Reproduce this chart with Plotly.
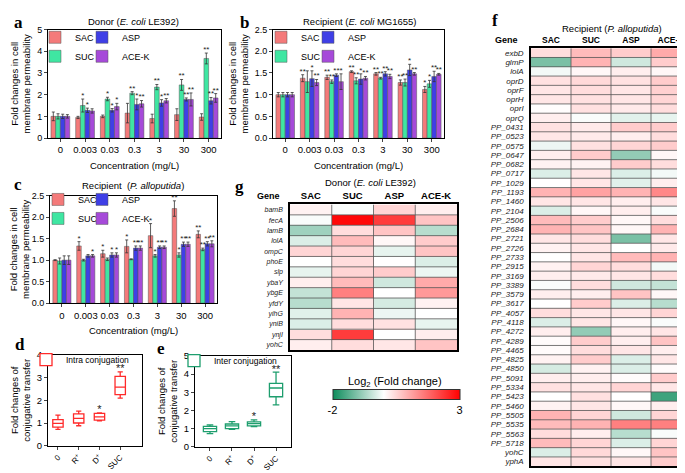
import plotly.graph_objects as go

W, H = 685, 473
def fx(p): return p / W
def fy(p): return 1 - p / H

FONT = "Liberation Sans, Arial, sans-serif"
SERIF = "Liberation Serif, Times New Roman, serif"

# ---------------- data ----------------
conc_labels = ["0", "0.003", "0.03", "0.3", "3", "30", "300"]
series_names = ["SAC", "SUC", "ASP", "ACE-K"]
series_colors = ["#F47A7A", "#3FE6A2", "#3F3FE6", "#A64AD9"]

# panel a: Donor (E. coli LE392)
a_SAC = [1.00, 0.95, 1.00, 1.15, 0.90, 1.08, 0.97]
a_SUC = [1.00, 1.50, 1.80, 2.07, 2.35, 2.45, 3.67]
a_ASP = [1.00, 1.28, 1.28, 1.55, 1.62, 1.78, 1.72]
a_ACEK = [1.00, 1.25, 1.45, 1.58, 1.72, 1.78, 1.85]
a_SAC_err = [0.20, 0.05, 0.06, 0.45, 0.20, 0.27, 0.15]
a_SUC_err = [0.12, 0.30, 0.08, 0.07, 0.12, 0.25, 0.25]
a_ASP_err = [0.10, 0.10, 0.08, 0.25, 0.15, 0.07, 0.15]
a_ACEK_err = [0.08, 0.10, 0.15, 0.15, 0.10, 0.30, 0.20]
a_SAC_sig = ["", "", "", "", "", "", ""]
a_SUC_sig = ["", "*", "*", "**", "**", "**", "**"]
a_ASP_sig = ["", "*", "*", "*", "*", "**", "**"]
a_ACEK_sig = ["", "", "*", "**", "**", "**", "**"]

# panel b: Recipient (E. coli MG1655)
b_SAC = [1.00, 1.38, 1.40, 1.53, 1.48, 1.28, 1.12]
b_SUC = [1.00, 1.30, 1.30, 1.32, 1.38, 1.28, 1.25]
b_ASP = [1.00, 1.37, 1.45, 1.36, 1.48, 1.57, 1.42]
b_ACEK = [1.00, 1.28, 1.30, 1.38, 1.42, 1.48, 1.47]
b_SAC_err = [0.05, 0.08, 0.05, 0.02, 0.03, 0.06, 0.07]
b_SUC_err = [0.05, 0.25, 0.04, 0.07, 0.02, 0.08, 0.08]
b_ASP_err = [0.05, 0.18, 0.03, 0.12, 0.05, 0.13, 0.12]
b_ACEK_err = [0.05, 0.07, 0.18, 0.04, 0.05, 0.03, 0.02]
b_SAC_sig = ["", "**", "**", "**", "**", "**", "*"]
b_SUC_sig = ["", "", "**", "**", "**", "**", "*"]
b_ASP_sig = ["", "*", "**", "*", "**", "*", "**"]
b_ACEK_sig = ["", "**", "*", "**", "**", "**", "**"]

# panel c: Recipient (P. alloputida)
c_SAC = [1.00, 1.33, 1.15, 1.32, 1.57, 2.20, 1.60]
c_SUC = [0.98, 1.00, 1.02, 1.02, 1.10, 1.12, 1.25]
c_ASP = [1.00, 1.10, 1.12, 1.28, 1.30, 1.37, 1.38]
c_ACEK = [1.00, 1.10, 1.12, 1.28, 1.30, 1.37, 1.38]
c_SAC_err = [0.01, 0.10, 0.08, 0.15, 0.28, 0.18, 0.08]
c_SUC_err = [0.07, 0.02, 0.03, 0.01, 0.03, 0.05, 0.03]
c_ASP_err = [0.10, 0.03, 0.05, 0.05, 0.03, 0.05, 0.05]
c_ACEK_err = [0.10, 0.03, 0.05, 0.05, 0.03, 0.05, 0.07]
c_SAC_sig = ["", "*", "*", "*", "*", "**", "**"]
c_SUC_sig = ["", "", "", "", "*", "*", "**"]
c_ASP_sig = ["", "", "*", "**", "**", "**", "**"]
c_ACEK_sig = ["", "*", "*", "**", "**", "**", "**"]

# panels d / e: conjugative transfer box plots
box_groups = ["0", "R<sup>+</sup>", "D<sup>+</sup>", "SUC"]
d_low = [0.72, 0.88, 1.10, 2.10]
d_q1 = [0.82, 1.00, 1.13, 2.25]
d_med = [0.98, 1.20, 1.27, 2.58]
d_q3 = [1.15, 1.40, 1.42, 3.05]
d_high = [1.35, 1.52, 1.45, 3.25]
d_sig = ["", "", "*", "**"]

e_low = [0.72, 0.95, 1.10, 2.30]
e_q1 = [0.83, 1.00, 1.15, 2.75]
e_med = [1.00, 1.15, 1.27, 3.23]
e_q3 = [1.12, 1.25, 1.37, 3.49]
e_high = [1.20, 1.38, 1.48, 4.11]
e_sig = ["", "", "*", "**"]

# panel g: Donor heatmap (log2 fold change)
g_genes = ["bamB", "fecA", "lamB", "lolA", "ompC", "phoE", "slp", "ybaY", "ybgE",
           "yfdY", "yihG", "yniB", "ynjI", "yohC"]
g_SAC = [0.15, -0.05, -0.8, -0.3, 0.5, 0.0, -0.2, 0.2, -0.5, -0.6, -0.25, -0.3, 0.4, 0.2]
g_SUC = [-0.05, 2.9, 0.4, 0.8, 0.5, 0.4, 0.5, 0.8, 1.5, 0.3, 0.9, 0.4, 2.3, 0.4]
g_ASP = [0.5, 2.3, 0.7, 0.1, -0.2, 0.0, 0.6, -0.4, 0.0, -0.35, -0.15, 0.35, 0.0, 0.3]
g_ACEK = [0.2, 0.7, -0.6, 0.6, 0.7, -0.3, -0.15, 1.0, 1.2, 0.15, 0.0, -0.2, 0.2, 0.7]

# panel f: Recipient (P. alloputida) heatmap
f_genes = ["exbD", "glmP", "lolA", "oprD", "oprF", "oprH", "oprI", "oprQ",
           "PP_0431", "PP_0523", "PP_0575", "PP_0647", "PP_0682", "PP_0717", "PP_1029",
           "PP_1193", "PP_1460", "PP_2104", "PP_2506", "PP_2684", "PP_2721", "PP_2726",
           "PP_2733", "PP_2915", "PP_3169", "PP_3389", "PP_3579", "PP_3617", "PP_4057",
           "PP_4118", "PP_4272", "PP_4289", "PP_4465", "PP_4825", "PP_4850", "PP_5091",
           "PP_5334", "PP_5423", "PP_5460", "PP_5505", "PP_5535", "PP_5563", "PP_5718",
           "yohC", "yphA"]
f_SAC = [0.4, -1.1, -0.1, 0.35, 0.3, 0.3, 0.02, 0.2, 0.35, 0.3, -0.15, 0.2, 0.15, -0.3, 0.0,
         0.9, 0.3, -0.3, 0.8, 0.9, 0.3, 0.15, 0.0, 0.15, 0.2, -0.05, 0.2, 0.0, 0.4,
         -0.3, 0.2, 0.05, 0.05, 0.15, -0.35, 0.2, 0.35, 0.0, 0.15, 0.9, 0.8, 0.4, 0.8,
         -0.3, 0.3]
f_SUC = [0.8, 0.9, 0.1, 0.45, 0.4, 0.35, 0.35, -0.05, 0.25, 0.25, 0.35, 0.6, 0.15, 0.3, 0.3,
         1.1, 0.3, 0.1, 0.6, 0.7, 0.4, 0.3, 0.3, 0.5, 0.25, 0.4, 0.2, 0.6, 0.3,
         0.3, -0.9, 0.6, 0.4, 0.6, 0.15, 0.2, 0.3, 0.35, 0.3, 0.5, 0.9, 0.2, 0.5,
         0.45, 0.35]
f_ASP = [0.6, -0.4, 0.2, 0.35, 0.3, 0.3, 0.25, -0.25, 0.6, 0.2, 0.5, -0.9, 0.6, -0.3, -0.25,
         0.9, 0.2, 0.2, 0.1, 0.1, -1.1, 0.0, 0.8, 0.4, 0.3, -0.4, 0.7, -0.3, 0.3,
         0.1, 0.2, 0.2, 0.3, -0.3, -0.3, 0.05, 0.5, 0.0, 0.1, -0.4, 1.5, -0.6, -0.3,
         0.1, 0.3]
f_ACEK = [1.0, 0.6, 0.1, 0.6, 0.55, 0.5, 0.4, -0.2, 0.6, 0.4, 0.6, 0.1, 0.4, -0.1, 0.2,
          1.4, 0.3, -0.05, 0.4, 0.9, 0.3, 0.25, 0.9, -0.1, 0.4, -0.5, 0.1, -0.6, 0.5,
          -0.05, 0.3, 0.7, 0.2, 0.3, 0.05, 0.6, 0.3, -1.6, 0.2, 0.5, 1.5, -0.05, 0.5,
          0.7, 0.6]

# ---------------- figure ----------------
fig = go.Figure()

BW = 0.19
panels = {
    "a": dict(ax="", vals=[a_SAC, a_SUC, a_ASP, a_ACEK], errs=[a_SAC_err, a_SUC_err, a_ASP_err, a_ACEK_err],
              sigs=[a_SAC_sig, a_SUC_sig, a_ASP_sig, a_ACEK_sig], ymax=5, legs=("legend", "legend2")),
    "b": dict(ax="2", vals=[b_SAC, b_SUC, b_ASP, b_ACEK], errs=[b_SAC_err, b_SUC_err, b_ASP_err, b_ACEK_err],
              sigs=[b_SAC_sig, b_SUC_sig, b_ASP_sig, b_ACEK_sig], ymax=2.5, legs=("legend3", "legend4")),
    "c": dict(ax="3", vals=[c_SAC, c_SUC, c_ASP, c_ACEK], errs=[c_SAC_err, c_SUC_err, c_ASP_err, c_ACEK_err],
              sigs=[c_SAC_sig, c_SUC_sig, c_ASP_sig, c_ACEK_sig], ymax=2.5, legs=("legend5", "legend6")),
}

for key, p in panels.items():
    xa, ya = "x" + p["ax"], "y" + p["ax"]
    for k, name in enumerate(series_names):
        xs = [i + (k - 1.5) * BW for i in range(len(conc_labels))]
        fig.add_trace(go.Bar(
            x=xs, y=p["vals"][k], width=BW, name=name, xaxis=xa, yaxis=ya,
            marker=dict(color=series_colors[k], line=dict(color="#555555", width=0.5)),
            error_y=dict(type="data", array=p["errs"][k], color="#333333", thickness=0.8, width=1.5),
            legend=p["legs"][0] if k in (0, 1) else p["legs"][1],
            legendrank=k + 1, hoverinfo="skip"))
        tops = [v + e + p["ymax"] * 0.028 for v, e in zip(p["vals"][k], p["errs"][k])]
        fig.add_trace(go.Scatter(
            x=xs, y=tops, text=p["sigs"][k], mode="text", textposition="middle center",
            textfont=dict(size=8, color="#222222", family=FONT), xaxis=xa, yaxis=ya,
            showlegend=False, hoverinfo="skip", cliponaxis=False))

# box panels
box_specs = [
    ("4", d_low, d_q1, d_med, d_q3, d_high, d_sig, "#FF2A2A", "Intra conjugation", "legend7", 0.5, 4),
    ("5", e_low, e_q1, e_med, e_q3, e_high, e_sig, "#1E9E6E", "Inter conjugation", "legend8", 0.6, 5),
]
for ax, lo, q1, md, q3, hi, sig, col, nm, leg, bw, ymax in box_specs:
    xs = list(range(len(box_groups)))
    fig.add_trace(go.Box(
        x=xs, lowerfence=lo, q1=q1, median=md, q3=q3, upperfence=hi,
        width=bw, whiskerwidth=0.5, fillcolor="white", line=dict(color=col, width=1.3),
        name=nm, xaxis="x" + ax, yaxis="y" + ax, legend=leg, showlegend=True, hoverinfo="skip"))
    fig.add_trace(go.Scatter(
        x=xs, y=[h + ymax * 0.025 for h in hi], text=sig, mode="text",
        textfont=dict(size=11, color="#222222", family=FONT), xaxis="x" + ax, yaxis="y" + ax,
        showlegend=False, hoverinfo="skip", cliponaxis=False))

# heatmaps
g_z = [[g_SAC[i], g_SUC[i], g_ASP[i], g_ACEK[i]] for i in range(len(g_genes))]
f_z = [[f_SAC[i], f_SUC[i], f_ASP[i], f_ACEK[i]] for i in range(len(f_genes))]
fig.add_trace(go.Heatmap(z=g_z, x=list(range(4)), y=list(range(len(g_genes))),
                         coloraxis="coloraxis", xaxis="x6", yaxis="y6", hoverinfo="skip"))
fig.add_trace(go.Heatmap(z=f_z, x=list(range(4)), y=list(range(len(f_genes))),
                         coloraxis="coloraxis", xaxis="x7", yaxis="y7", hoverinfo="skip"))

shapes = []
for ax, n in (("6", len(g_genes)), ("7", len(f_genes))):
    for r in range(1, n):
        shapes.append(dict(type="line", xref="x" + ax, yref="y" + ax, x0=-0.5, x1=3.5,
                           y0=r - 0.5, y1=r - 0.5, line=dict(color="#555555", width=0.8)))
    for c in range(1, 4):
        shapes.append(dict(type="line", xref="x" + ax, yref="y" + ax, x0=c - 0.5, x1=c - 0.5,
                           y0=-0.5, y1=n - 0.5, line=dict(color="#555555", width=0.8)))

# ---------------- layout ----------------
def axbase(anchor):
    return dict(anchor=anchor, showline=True, mirror=True, linecolor="black", linewidth=1,
                showgrid=False, zeroline=False)

def bar_x(dom, anchor):
    d = axbase(anchor)
    d.update(domain=dom, range=[-0.5, 6.5], tickvals=list(range(7)), ticktext=conc_labels,
             tickangle=0, ticks="outside", ticklen=3, tickwidth=1,
             tickfont=dict(size=9.5, color="black"),
             title=dict(text="Concentration (mg/L)", font=dict(size=9.5, color="black"), standoff=7))
    return d

def bar_y(dom, anchor, ymax, dt, fmt):
    d = axbase(anchor)
    d.update(domain=dom, range=[0, ymax], dtick=dt, tickformat=fmt, ticks="outside", ticklen=3,
             tickwidth=1, tickfont=dict(size=9, color="black"),
             title=dict(text="Fold changes in cell<br>membrane permeability",
                        font=dict(size=9.5, color="black"), standoff=4))
    return d

def box_x(dom, anchor, rng):
    d = axbase(anchor)
    d.update(domain=dom, range=rng, tickvals=list(range(4)), ticktext=box_groups,
             tickangle=-45, ticks="outside", ticklen=3, tickwidth=1,
             tickfont=dict(size=8, color="black"))
    return d

def box_y(dom, anchor, ymax):
    d = axbase(anchor)
    d.update(domain=dom, range=[0, ymax], dtick=1, ticks="outside", ticklen=3, tickwidth=1,
             tickfont=dict(size=9.5, color="black"),
             title=dict(text="Fold changes of<br>conjugative transfer",
                        font=dict(size=9.5, color="black"), standoff=4))
    return d

def hm_x(dom, anchor, size):
    d = axbase(anchor)
    d.update(domain=dom, range=[-0.5, 3.5], side="top", tickvals=list(range(4)),
             ticktext=["<b>%s</b>" % s for s in series_names], ticks="", linewidth=1.5,
             tickfont=dict(size=size, color="black"))
    return d

def hm_y(dom, anchor, genes, size):
    n = len(genes)
    d = axbase(anchor)
    d.update(domain=dom, range=[n - 0.5, -0.5], tickvals=list(range(n)),
             ticktext=["<i>%s</i>" % g for g in genes], ticks="outside", ticklen=4,
             tickcolor="rgba(0,0,0,0)", linewidth=1.5,
             tickfont=dict(size=size, color="#222222"))
    return d

def leg(x, y, size=9):
    return dict(x=fx(x), y=fy(y), xanchor="left", yanchor="top", bgcolor="rgba(0,0,0,0)",
                font=dict(size=size, color="black", family=FONT), itemwidth=30,
                tracegroupgap=0)

annotations = []
def ann(text, x, y, size=9.5, family=FONT):
    annotations.append(dict(text=text, x=fx(x), y=fy(y), xref="paper", yref="paper",
                            showarrow=False, xanchor="center", yanchor="middle",
                            font=dict(size=size, family=family, color="black")))

ann("Donor (<i>E. coli</i> LE392)", 126, 8)
ann("Recipient (<i>E. coli</i> MG1655)", 352, 8)
ann("Recipient  (<i>P. alloputida</i>)", 125, 176)
ann("Donor (<i>E. coli</i> LE392)", 362, 173)
ann("Recipient (<i>P. alloputida</i>)", 604, 15)
ann("<b>Gene</b>", 260, 186, size=9)
ann("<b>Gene</b>", 498, 27, size=9)
ann("Log<sub>2</sub> (Fold change)", 387, 377, size=11)
for letter, x, y in (("a", 10, 9), ("b", 236, 9), ("c", 10, 175), ("d", 12, 338),
                     ("e", 153, 342), ("f", 487, 7), ("g", 231, 177)):
    ann("<b>%s</b>" % letter, x, y, size=17, family=SERIF)

fig.update_layout(
    width=W, height=H, margin=dict(l=0, r=0, t=0, b=0),
    paper_bgcolor="white", plot_bgcolor="white",
    font=dict(family=FONT, color="black", size=9),
    barmode="overlay", showlegend=True,
    xaxis=bar_x([fx(40), fx(213)], "y"), yaxis=bar_y([fy(127), fy(16)], "x", 5, 1, "d"),
    xaxis2=bar_x([fx(265), fx(436)], "y2"), yaxis2=bar_y([fy(127), fy(16)], "x2", 2.5, 0.5, ".1f"),
    xaxis3=bar_x([fx(42), fx(209)], "y3"), yaxis3=bar_y([fy(296), fy(186)], "x3", 2.5, 0.5, ".1f"),
    xaxis4=box_x([fx(40), fx(134)], "y4", [-0.48, 4.05]), yaxis4=box_y([fy(442), fy(349)], "x4", 4),
    xaxis5=box_x([fx(187), fx(283)], "y5", [-0.68, 3.68]), yaxis5=box_y([fy(443), fy(350)], "x5", 5),
    xaxis6=hm_x([fx(282), fx(449)], "y6", 9.5), yaxis6=hm_y([fy(344), fy(195)], "x6", g_genes, 7),
    xaxis7=hm_x([fx(523), fx(683)], "y7", 8.5), yaxis7=hm_y([fy(463), fy(35)], "x7", f_genes, 8),
    coloraxis=dict(cmin=-2, cmax=3,
                   colorscale=[[0, "#0E8C5C"], [0.4, "#FFFFFF"], [1, "#FF0000"]],
                   colorbar=dict(orientation="h", x=fx(388), xanchor="center", y=fy(396),
                                 yanchor="middle", len=127 / W, lenmode="fraction", thickness=10,
                                 outlinewidth=1, outlinecolor="#333333", tickvals=[-2, 3],
                                 ticktext=["-2", "3"],
                                 ticks="", tickfont=dict(size=11, color="black"), xpad=0, ypad=0)),
    legend=leg(27, 9), legend2=leg(74, 9),
    legend3=leg(253, 9), legend4=leg(300, 9),
    legend5=leg(30, 175), legend6=leg(74, 175),
    legend7=leg(18, 339, 8.5), legend8=leg(166, 340, 8.5),
    shapes=shapes, annotations=annotations,
)

fig.write_html("out.html")
